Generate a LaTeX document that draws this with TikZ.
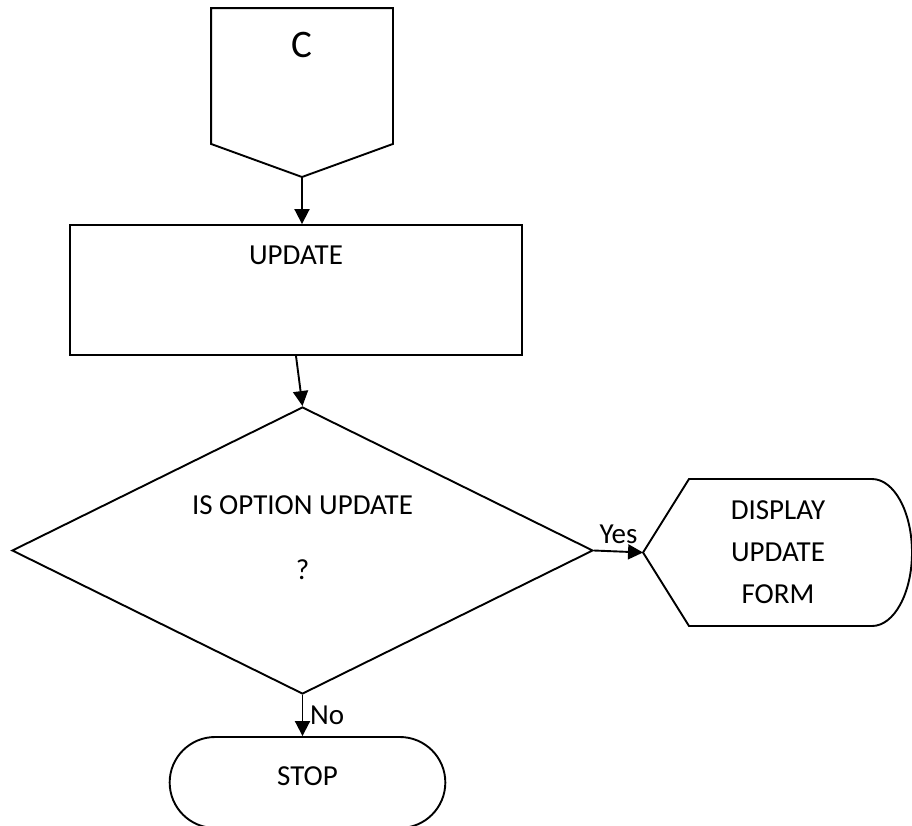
\documentclass[tikz,border=0pt]{standalone}
\usepackage{fontspec}
\setmainfont{Carlito}
\usetikzlibrary{arrows.meta, shapes.geometric, shapes.misc}

\begin{document}
\begin{tikzpicture}[x=0.5pt, y=-0.5pt, line width=0.95pt,
        font=\fontsize{14.5}{17.5}\selectfont,
        box/.style={draw, rectangle, minimum width=226pt, minimum height=65pt},
        decision/.style={draw, diamond, minimum width=290.5pt, minimum height=143.5pt, inner sep=0pt},
        terminal/.style={draw, rounded rectangle, minimum width=144.5pt, minimum height=45.5pt},
        flow/.style={-{Triangle[length=7.5pt, width=7.5pt]}}]
        \useasboundingbox (0, 0) rectangle (912, 826);

        \node (1) at (302, 76) [minimum width=90pt, minimum height=67pt, label={[yshift=15.5pt, font=\fontsize{19.5}{22}\selectfont]center:C}] {};
        \coordinate (1a) at (302, 177);
        \draw (1.north west) -- (1.north east) -- (1.south east) -- (1a) -- (1.south west) -- cycle;

        \node (2) at (296, 290) [box, label={[yshift=17.5pt]center:UPDATE}] {};
        \node (3) at (302.5, 550.5) [decision, label={[yshift=6.5pt, align=center]center:{IS OPTION UPDATE\\[15pt]?}}] {};

        \node (4) at (778, 552.5) [minimum width=134pt, minimum height=73.5pt, align=center] {DISPLAY\\[3.5pt]UPDATE\\[3.5pt]FORM};
        \draw (4.west) -- (689, 479) -- (872, 479) arc [start angle=-90, end angle=90, x radius=40, y radius=73.5] -- (689, 626) -- cycle;

        \node (5) at (307.5, 782.5) [terminal, text depth=6pt] {STOP};

        \draw [flow] (1a) -- (1a |- 2.north);
        \draw [flow] (2.south) -- (3.north);
        \draw [flow] (3.east) -- node [above] {Yes} (4.west);
        \draw [flow] (3.south) -- node [right] {No} (3.south |- 5.north);
    \end{tikzpicture}
\end{document}
